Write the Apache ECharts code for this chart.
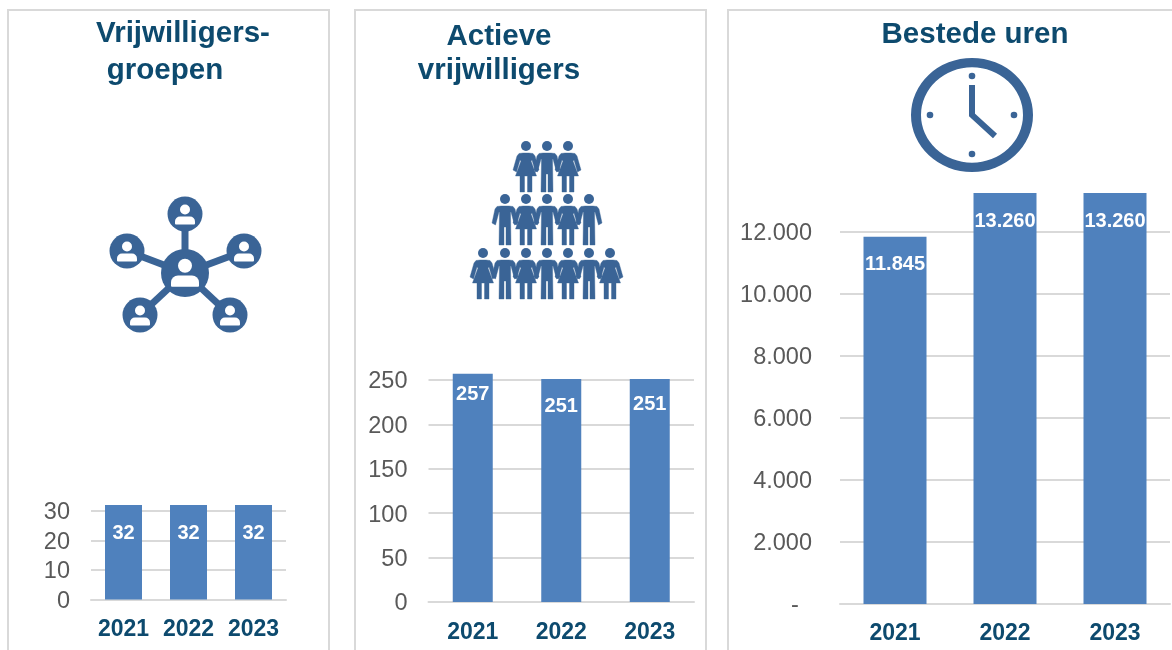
<!DOCTYPE html>
<html lang="en">
<head>
    <meta charset="UTF-8">
    <title>Vrijwilligers</title>
    <style>
        html, body { margin: 0; padding: 0; background: #fff; }
        #chart { width: 1172px; height: 650px; }
    </style>
    <script src="https://cdn.jsdelivr.net/npm/echarts@6/dist/echarts.min.js"></script>
</head>
<body>
    <div id="chart"></div>
    <script>
    // data
    var years = ['2021', '2022', '2023'];
    var groepen = [32, 32, 32];
    var actieve = [257, 251, 251];
    var uren = [11845, 13260, 13260];
    var groepenTicks = ['0', '10', '20', '30'];
    var actieveTicks = ['0', '50', '100', '150', '200', '250'];
    var urenTicks = ['-  ', '2.000', '4.000', '6.000', '8.000', '10.000', '12.000'];

    var BLUE = '#4f81bd', ICON = '#3a6496', NAVY = '#0d4a6e', GREY = '#d9d9d9', LABEL = '#595959';

    function dutch(v) {
        return String(v).replace(/\B(?=(\d{3})+$)/g, '.');
    }

    // one grid + axes + series per panel
    var panels = [
        { values: groepen, ticks: groepenTicks, left: 91, width: 195, top: 481.5, height: 118, max: 40, interval: 10, bar: 37, gap: 21, xGap: 19, drop: [18, 18, 18] },
        { values: actieve, ticks: actieveTicks, left: 428.5, width: 265.5, top: 335.6, height: 266.4, max: 300, interval: 50, bar: 40, gap: 21, xGap: 19, drop: [11, 17, 15] },
        { values: uren, ticks: urenTicks, left: 840, width: 330, top: 170, height: 434, max: 14000, interval: 2000, bar: 63, gap: 28, xGap: 18, drop: [18, 19, 19] }
    ];

    var grids = [], xAxes = [], yAxes = [], series = [];
    panels.forEach(function (p, i) {
        grids.push({ left: p.left, width: p.width, top: p.top, height: p.height });
        xAxes.push({
            type: 'category', gridIndex: i, data: years,
            axisLine: { lineStyle: { color: GREY, width: 2 } },
            axisTick: { show: false },
            axisLabel: { interval: 0, color: NAVY, fontSize: 23, fontWeight: 'bold', fontFamily: 'Liberation Sans', margin: p.xGap }
        });
        yAxes.push({
            type: 'value', gridIndex: i, min: 0, max: p.max, interval: p.interval,
            axisLine: { show: false },
            axisTick: { show: false },
            splitLine: { show: true, showMaxLine: false, lineStyle: { color: GREY, width: 2 } },
            axisLabel: {
                margin: p.gap, showMaxLabel: false,
                // rich padding pushes the numbers 2px down, they sit low on the gridlines in the picture
                rich: { t: { color: LABEL, fontSize: 23.5, fontFamily: 'Liberation Sans', padding: [4, 0, 0, 0] } },
                formatter: function (v) {
                    var s = p.ticks[v / p.interval];
                    return s ? '{t|' + s + '}' : '';
                }
            }
        });
        series.push({
            type: 'bar', xAxisIndex: i, yAxisIndex: i, barWidth: p.bar,
            data: p.values.map(function (v, k) {
                return { value: v, label: { distance: p.drop[k] } };
            }),
            itemStyle: { color: BLUE },
            label: {
                show: true, position: 'insideTop',
                color: '#fff', fontSize: 20, fontWeight: 'bold', fontFamily: 'Liberation Sans',
                formatter: function (d) { return dutch(d.value); }
            }
        });
    });

    // titles, the first panel's two lines are not centred on each other
    function title(text, x, y) {
        return { text: text, left: x, top: y - 13, textAlign: 'center', padding: 0,
            textStyle: { color: NAVY, fontSize: 29.5, fontWeight: 'bold', fontFamily: 'Liberation Sans' } };
    }
    var titles = [
        title('Vrijwilligers-', 183, 32), title('groepen', 165, 69),
        title('Actieve', 499, 35), title('vrijwilligers', 499, 69),
        title('Bestede uren', 975, 33)
    ];

    // panel frames and icons
    var g = [];
    function frame(x, w) {
        g.push({ type: 'rect', shape: { x: x, y: 10, width: w, height: 660 }, style: { fill: '#fff', stroke: GREY, lineWidth: 2 }, z: -1 });
    }
    frame(8, 321); frame(355, 351); frame(728, 470);

    function circle(x, y, r, fill) {
        g.push({ type: 'circle', shape: { cx: x, cy: y, r: r }, style: { fill: fill || ICON } });
    }
    function line(x1, y1, x2, y2, w) {
        g.push({ type: 'line', shape: { x1: x1, y1: y1, x2: x2, y2: y2 }, style: { stroke: ICON, lineWidth: w } });
    }
    function user(x, y, s) {
        circle(x, y - 4.5 * s, 5 * s, '#fff');
        g.push({ type: 'rect', shape: { x: x - 10 * s, y: y + 2.5 * s, width: 20 * s, height: 8 * s, r: [5 * s, 5 * s, 1, 1] }, style: { fill: '#fff' } });
    }

    // network icon
    var hub = [185, 273];
    var nodes = [[185, 214], [127, 251], [244, 251], [140, 315], [230, 315]];
    nodes.forEach(function (n) { line(hub[0], hub[1], n[0], n[1], 7); });
    nodes.forEach(function (n) { circle(n[0], n[1], 17.5); user(n[0], n[1], 1); });
    circle(hub[0], hub[1], 24);
    user(hub[0], hub[1] - 1, 1.4);

    // people pyramid
    var man = [[-4, 7], [4, 7], [8, 7.5], [10, 10], [13, 24], [9.5, 26], [6, 13], [5.5, 13], [6, 46], [1, 46], [1, 28], [-1, 28], [-1, 46], [-6, 46], [-5.5, 13], [-6, 13], [-9.5, 26], [-13, 24], [-10, 10], [-8, 7.5]];
    var woman = [[-3, 7], [3, 7], [7, 7.5], [9, 10], [13, 24], [9.5, 26], [6, 14], [5, 15], [10.5, 30], [6, 30], [6, 46], [1.5, 46], [1.5, 30], [-1.5, 30], [-1.5, 46], [-6, 46], [-6, 30], [-10.5, 30], [-5, 15], [-6, 14], [-9.5, 26], [-13, 24], [-9, 10], [-7, 7.5]];
    function person(x, y, pts) {
        circle(x, y, 5);
        g.push({ type: 'polygon', shape: { points: pts.map(function (p) { return [x + p[0], y + p[1]]; }) }, style: { fill: ICON, stroke: ICON, lineWidth: 0.4, lineJoin: 'round' } });
    }
    [[146, [526, 547, 568], 1], [199, [505, 526, 547, 568, 589], 0], [253, [483, 505, 526, 547, 568, 589, 610], 1]].forEach(function (row) {
        row[1].forEach(function (x, k) {
            person(x, row[0], (k % 2 === 0) === (row[2] === 1) ? woman : man);
        });
    });

    // clock, slightly squashed like the picture
    g.push({ type: 'ring', shape: { cx: 0, cy: 0, r: 61, r0: 51 }, x: 972, y: 115, scaleY: 57 / 61, style: { fill: ICON } });
    circle(972, 76, 3.3); circle(972, 154, 3.3); circle(930, 115, 3.3); circle(1014, 115, 3.3);
    g.push({ type: 'polyline', shape: { points: [[972, 85], [972, 115], [995, 136]] }, style: { stroke: ICON, lineWidth: 6, fill: null } });

    var myChart = echarts.init(document.getElementById('chart'));
    myChart.setOption({
        animation: false,
        title: titles,
        grid: grids,
        xAxis: xAxes,
        yAxis: yAxes,
        series: series,
        graphic: { elements: g }
    });
    </script>
</body>
</html>
